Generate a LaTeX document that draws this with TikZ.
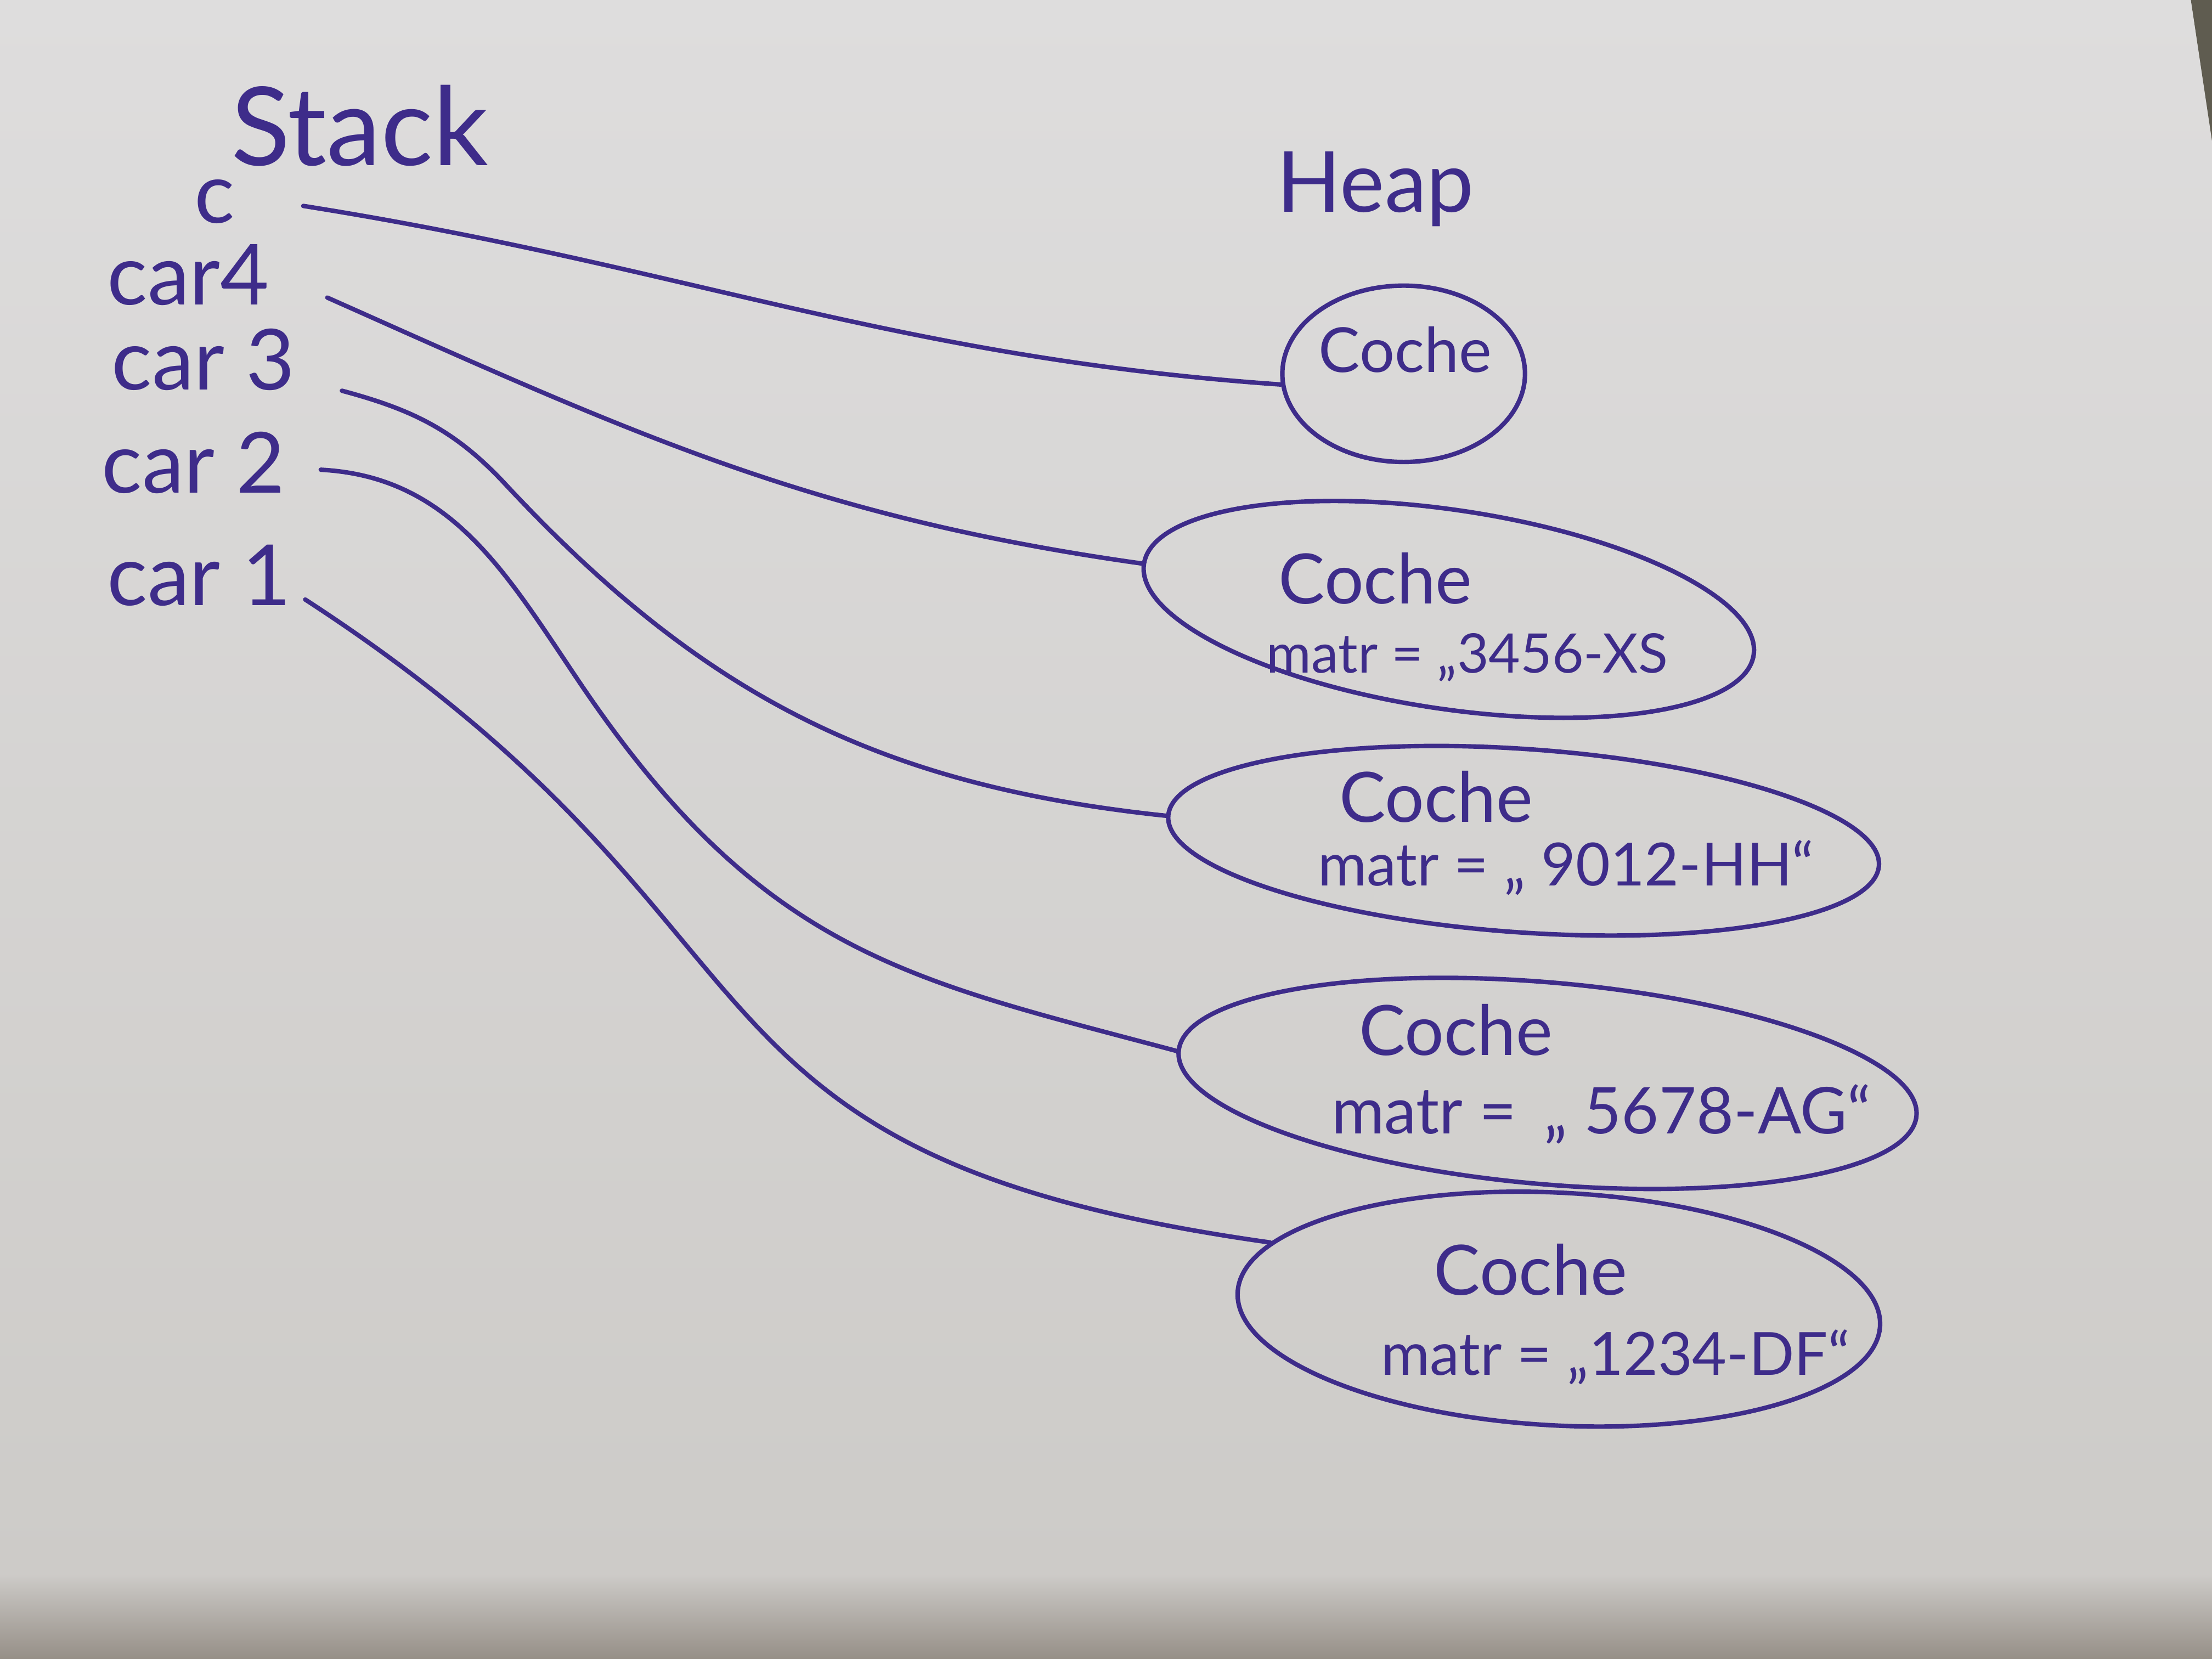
\documentclass[tikz,border=0pt]{standalone}
\usepackage{fontspec}
\setmainfont{Lato}
\usetikzlibrary{shapes.geometric}
\definecolor{ink}{RGB}{62,44,138}
\definecolor{paperA}{RGB}{222,221,221}
\definecolor{paperB}{RGB}{205,203,200}
\definecolor{paperC}{RGB}{150,143,135}
\definecolor{sheet}{RGB}{95,92,80}
\tikzset{
  lbl/.style={text=ink, inner sep=1pt, font=\fontsize{17}{20}\selectfont},
  title/.style={text=ink, inner sep=1pt, font=\fontsize{22}{26}\selectfont},
  cls/.style={text=ink, inner sep=0pt, font=\fontsize{14}{17}\selectfont},
  fld/.style={text=ink, inner sep=0pt, font=\fontsize{12}{14}\selectfont},
  obj/.style={ellipse, draw=ink, line width=0.9pt, inner sep=0pt},
  ref/.style={draw=ink, line width=0.9pt, line cap=round}
}
\begin{document}
\begin{tikzpicture}
% paper
\useasboundingbox (0,0) rectangle (15.68,11.76);
\shade[top color=paperA, bottom color=paperB] (0,0.6) rectangle (15.68,11.76);
\shade[top color=paperB, bottom color=paperC] (0,0) rectangle (15.68,0.6);
\fill[sheet] (15.53,11.76) -- (15.68,11.76) -- (15.68,10.76) -- cycle;

% titles
\node[title] (stack) at (2.55,10.87) {Stack};
\node[title, font=\fontsize{17}{20}\selectfont] (heap) at (9.75,10.42) {Heap};

% stack variables
\node[lbl, inner sep=0pt] (c) at (1.52,10.33) {c};
\node[lbl, anchor=west] (car4) at (0.72,9.81) {car4};
\node[lbl, anchor=west] (car3) at (0.75,9.21) {car 3};
\node[lbl, anchor=west] (car2) at (0.68,8.48) {car 2};
\node[lbl, anchor=west] (car1) at (0.72,7.68) {car 1};

% heap objects
\node[obj, minimum width=1.72cm, minimum height=1.25cm] (e1) at (9.95,9.11) {};
\node[cls, font=\fontsize{12.5}{15}\selectfont] (t1) at (9.96,9.28) {Coche};

\node[obj, rotate=-8.5, minimum width=4.37cm, minimum height=1.41cm] (e2) at (10.27,7.44) {};
\node[cls] (t2) at (9.75,7.66) {Coche};
\node[fld, font=\fontsize{11}{13}\selectfont] (m2) at (10.4,7.1) {matr = „3456-XS};

\node[obj, rotate=-4, minimum width=5.05cm, minimum height=1.3cm] (e3) at (10.8,5.80) {};
\node[cls] (t3) at (10.18,6.11) {Coche};
\node[fld] (m3) at (11.1,5.61) {matr = „ 9012-HH“};

\node[obj, rotate=-5, minimum width=5.25cm, minimum height=1.43cm] (e4) at (10.97,4.08) {};
\node[cls] (t4) at (10.32,4.46) {Coche};
\node[fld, font=\fontsize{13}{15}\selectfont] (m4) at (11.35,3.86) {matr = \,„ 5678-AG“};

\node[obj, rotate=-3, minimum width=4.56cm, minimum height=1.65cm] (e5) at (11.05,2.48) {};
\node[cls] (t5) at (10.85,2.76) {Coche};
\node[fld] (m5) at (11.45,2.14) {matr = „1234-DF“};

% references
\draw[ref] ([xshift=0.48cm,yshift=-0.03cm]c.east) to[out=-9, in=176] (e1.185);
\draw[ref] ([xshift=0.37cm,yshift=-0.16cm]car4.east) to[out=-24, in=172] (e2.west);
\draw[ref] ([xshift=0.29cm,yshift=-0.22cm]car3.east)
  to[out=-15, in=133] (3.58,8.33) to[out=-47, in=174] (e3.west);
\draw[ref] ([xshift=0.21cm,yshift=-0.05cm]car2.east)
  to[out=-3, in=124] (4.11,6.92) to[out=-56, in=165, out looseness=1.2] (e4.west);
\draw[ref] ([xshift=0.06cm,yshift=-0.17cm]car1.east)
  to[out=-33, in=172, out looseness=1.35, in looseness=1.4] (e5.170);
\end{tikzpicture}
\end{document}
